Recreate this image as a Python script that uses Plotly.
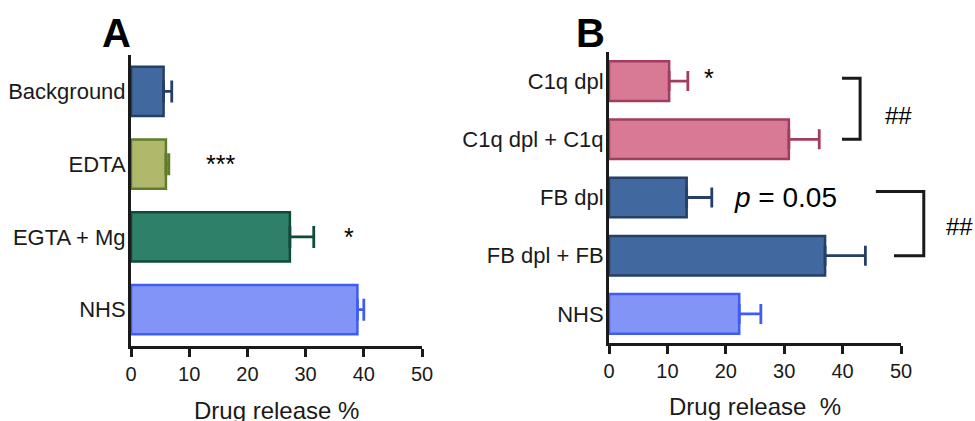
import plotly.graph_objects as go

# ---------------- data ----------------
cats_a = ["Background", "EDTA", "EGTA + Mg", "NHS"]
vals_a = [5.6, 6.0, 27.3, 38.9]
errs_a = [1.4, 0.5, 4.1, 1.1]
fill_a = ["#4268a0", "#b0b86c", "#2e8068", "#8294f6"]
edge_a = ["#253f66", "#5f7d2b", "#0e4b3b", "#3f5cf5"]

cats_b = ["C1q dpl", "C1q dpl + C1q", "FB dpl", "FB dpl + FB", "NHS"]
vals_b = [10.3, 30.8, 13.3, 37.0, 22.3]
errs_b = [3.2, 5.2, 4.3, 6.9, 3.7]
fill_b = ["#d87a95", "#d87a95", "#4268a0", "#4268a0", "#8294f6"]
edge_b = ["#a33d60", "#a33d60", "#253f66", "#253f66", "#3f5cf5"]

x_ticks = [0, 10, 20, 30, 40, 50]
x_max = 50

FONT = "Liberation Sans, Arial, sans-serif"
INK = "#1a1a1a"

W, H = 975, 421
# pixel layout of the two plot areas
A_px = dict(l=131, r=422, t=55, b=346)
B_px = dict(l=609, r=901, t=52, b=343)


def xdom(p):
    return [p["l"] / W, p["r"] / W]


def ydom(p):
    return [1 - p["b"] / H, 1 - p["t"] / H]


fig = go.Figure()


def add_bars(cats, vals, errs, fills, edges, xa, ya, capw):
    for c, v, e, f, ed in zip(cats, vals, errs, fills, edges):
        fig.add_trace(go.Bar(
            x=[v], y=[c], orientation="h", width=0.68,
            marker=dict(color=f, line=dict(color=ed, width=2.5)),
            error_x=dict(type="data", symmetric=False, array=[e], arrayminus=[0],
                         color=ed, thickness=2.8, width=capw),
            xaxis=xa, yaxis=ya, showlegend=False, hoverinfo="skip",
        ))


add_bars(cats_a, vals_a, errs_a, fill_a, edge_a, "x", "y", 11)
add_bars(cats_b, vals_b, errs_b, fill_b, edge_b, "x2", "y2", 10)

xaxis_common = dict(
    range=[0, x_max], tickvals=x_ticks, showline=True, linewidth=3, linecolor=INK,
    ticks="outside", ticklen=8, tickwidth=3, tickcolor=INK, showgrid=False,
    zeroline=False, tickfont=dict(family=FONT, size=20, color=INK), fixedrange=True,
    automargin=False,
)
yaxis_common = dict(
    showline=True, linewidth=3, linecolor=INK, ticks="", showgrid=False,
    zeroline=False, tickfont=dict(family=FONT, size=22, color=INK), fixedrange=True,
    ticklabelstandoff=-2, automargin=False,
)

fig.update_layout(
    width=W, height=H, margin=dict(l=0, r=0, t=0, b=0, autoexpand=False),
    paper_bgcolor="white", plot_bgcolor="white", barmode="overlay",
    xaxis=dict(domain=xdom(A_px), anchor="y", **xaxis_common),
    yaxis=dict(domain=ydom(A_px), anchor="x", type="category",
               categoryarray=cats_a, categoryorder="array",
               range=[len(cats_a) - 0.5, -0.5], **yaxis_common),
    xaxis2=dict(domain=xdom(B_px), anchor="y2", **xaxis_common),
    yaxis2=dict(domain=ydom(B_px), anchor="x2", type="category",
                categoryarray=cats_b, categoryorder="array",
                range=[len(cats_b) - 0.5, -0.5], **yaxis_common),
)


def xf(p, xd):
    """data x -> paper fraction for given panel"""
    return (p["l"] + (p["r"] - p["l"]) * xd / x_max) / W


def yf(p, idx, n):
    """category index -> paper fraction"""
    top, bot = p["t"], p["b"]
    py = top + (bot - top) * (idx + 0.5) / n
    return 1 - py / H


def txt(text, x, y, size, xref="paper", yref="paper", yanchor="middle", yshift=0, color="black"):
    return dict(text=text, x=x, y=y, xref=xref, yref=yref, xanchor="center",
                yanchor=yanchor, yshift=yshift, showarrow=False,
                font=dict(family=FONT, size=size, color=color))


ann = []
# panel letters
ann.append(txt("<b>A</b>", 116 / W, 1 - 33 / H, 40))
ann.append(txt("<b>B</b>", 590 / W, 1 - 33 / H, 40))
# axis titles
ann.append(txt("Drug release %", (A_px["l"] + A_px["r"]) / 2 / W, 1 - 395 / H, 24,
               yanchor="top", color=INK))
ann.append(txt("Drug release\u00a0 %", (B_px["l"] + B_px["r"]) / 2 / W, 1 - 391 / H, 24,
               yanchor="top", color=INK))
# significance marks panel A
ann.append(txt("***", 15.3, "EDTA", 25, xref="x", yref="y"))
ann.append(txt("*", 37.4, "EGTA + Mg", 25, xref="x", yref="y"))
# panel B
ann.append(txt("*", 17.1, "C1q dpl", 25, xref="x2", yref="y2", yshift=3))
ann.append(txt("<i>p</i> = 0.05", 30.3, "FB dpl", 28, xref="x2", yref="y2"))
nb = len(cats_b)
ann.append(txt("##", xf(B_px, 49.5), (yf(B_px, 0, nb) + yf(B_px, 1, nb)) / 2 - 0.012, 24))
ann.append(txt("##", xf(B_px, 60.1), (yf(B_px, 2, nb) + yf(B_px, 3, nb)) / 2, 24))
fig.update_layout(annotations=ann)

# brackets (panel B)
shapes = []
b1_y0, b1_y1 = yf(B_px, 0, nb) + 0.007, yf(B_px, 1, nb)
b1_xl, b1_xr = xf(B_px, 39.9), xf(B_px, 43.0)
shapes.append(dict(type="path", xref="paper", yref="paper",
                   path=f"M{b1_xl},{b1_y0} L{b1_xr},{b1_y0} L{b1_xr},{b1_y1} L{b1_xl},{b1_y1}",
                   line=dict(color=INK, width=3)))
b2_y0, b2_y1 = yf(B_px, 2, nb) + 0.014, yf(B_px, 3, nb)
b2_xl_top, b2_xl_bot, b2_xr = xf(B_px, 45.7), xf(B_px, 48.8), xf(B_px, 53.9)
shapes.append(dict(type="path", xref="paper", yref="paper",
                   path=f"M{b2_xl_top},{b2_y0} L{b2_xr},{b2_y0} L{b2_xr},{b2_y1} L{b2_xl_bot},{b2_y1}",
                   line=dict(color=INK, width=3)))
fig.update_layout(shapes=shapes)

fig.write_html(
    "out.html",
    config={"displayModeBar": False, "staticPlot": True},
    post_script="document.body.style.margin='0';document.body.style.overflow='hidden';",
)
